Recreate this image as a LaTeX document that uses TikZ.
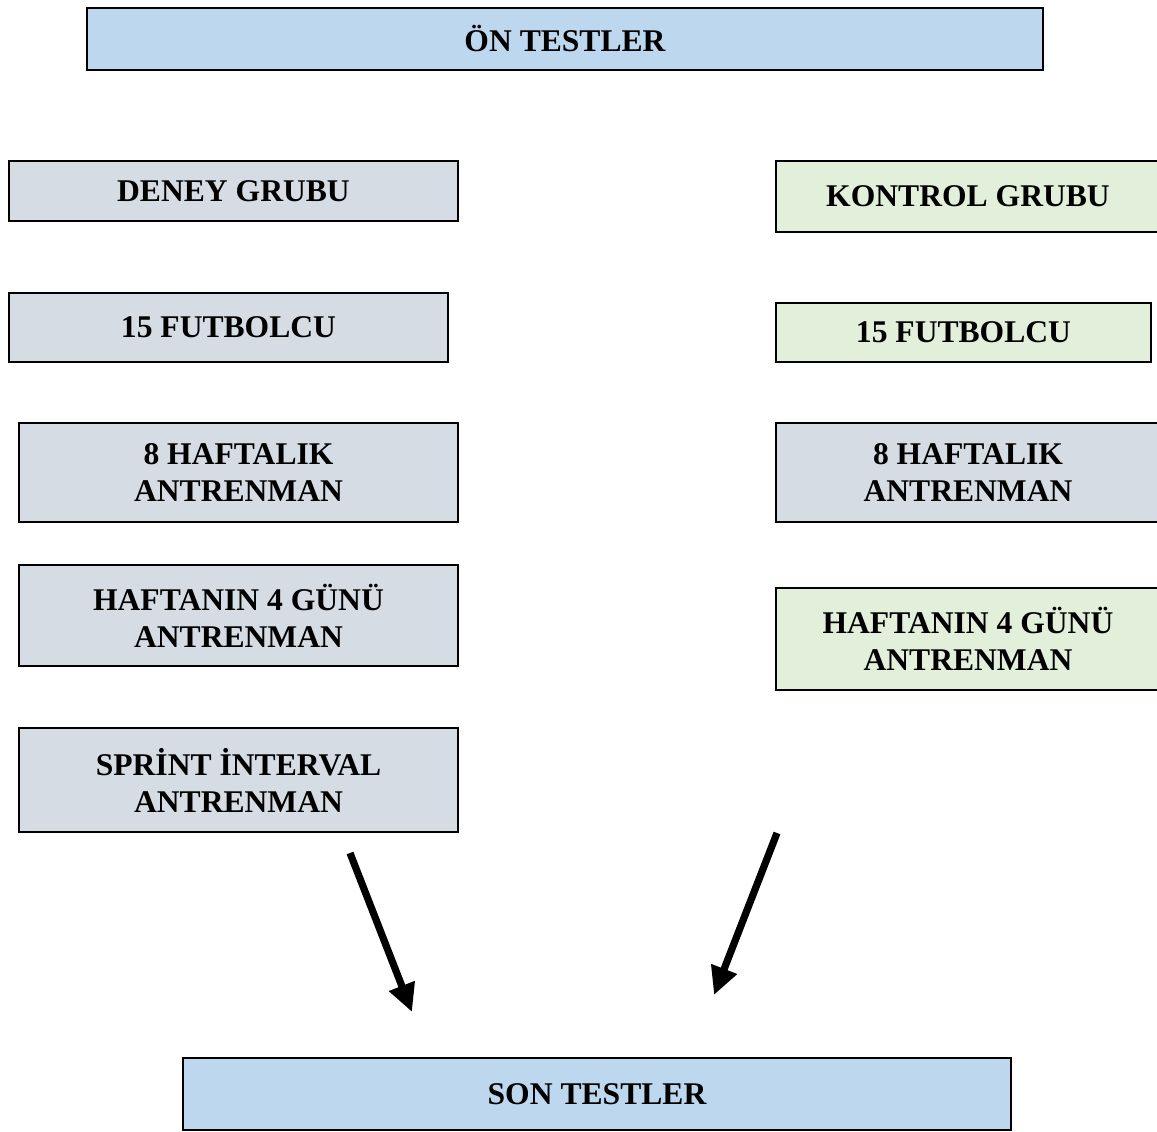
\documentclass[tikz,border=0pt]{standalone}
\usepackage{fontspec}
\setmainfont{Liberation Serif}
\usetikzlibrary{arrows.meta}
\definecolor{testblue}{HTML}{BDD7EE}
\definecolor{grupgray}{HTML}{D6DCE4}
\definecolor{grupgreen}{HTML}{E2EFDA}
\tikzset{
	kutu/.style={draw=black,line width=1pt,inner sep=0pt,align=center,font=\fontsize{15.8}{18.5}\selectfont\bfseries},
	ok/.style={line width=3.6pt,-{Triangle[length=14pt,width=13pt]}}
}
\begin{document}
\begin{tikzpicture}[x=0.5pt,y=-0.5pt]
	\useasboundingbox (0,0) rectangle (1157,1131);
	\node[kutu,fill=testblue,minimum width=478pt,minimum height=31pt] (on) at (565,39) {ÖN TESTLER};
	\node[kutu,fill=grupgray,minimum width=224.5pt,minimum height=30pt] (deney) at (233.5,191) {DENEY GRUBU};
	\node[kutu,fill=grupgray,minimum width=219.5pt,minimum height=34.5pt] (dfut) at (228.5,327.5) {15 FUTBOLCU};
	\node[kutu,fill=grupgray,minimum width=219.5pt,minimum height=49.5pt] (dhaf) at (238.5,472.5) {8 HAFTALIK\\ANTRENMAN};
	\node[kutu,fill=grupgray,minimum width=219.5pt,minimum height=50.5pt] (dgun) at (238.5,615.5) {HAFTANIN 4 GÜNÜ\\ANTRENMAN};
	\node[kutu,fill=grupgray,minimum width=219.5pt,minimum height=52pt] (dspr) at (238.5,780) {SPRİNT İNTERVAL\\ANTRENMAN};
	\node[kutu,fill=grupgreen,minimum width=192pt,minimum height=35.5pt] (kontrol) at (968,196.5) {KONTROL GRUBU};
	\node[kutu,fill=grupgreen,minimum width=187.5pt,minimum height=29.5pt] (kfut) at (963.5,332.5) {15 FUTBOLCU};
	\node[kutu,fill=grupgray,minimum width=192pt,minimum height=49.5pt] (khaf) at (968,472.5) {8 HAFTALIK\\ANTRENMAN};
	\node[kutu,fill=grupgreen,minimum width=192pt,minimum height=51pt] (kgun) at (968,639) {HAFTANIN 4 GÜNÜ\\ANTRENMAN};
	\node[kutu,fill=testblue,minimum width=414pt,minimum height=36pt] (son) at (597,1094) {SON TESTLER};
	\coordinate (sol1) at (350,853);
	\coordinate (sol2) at (412,1012);
	\coordinate (sag1) at (777,833);
	\coordinate (sag2) at (714,995);
	\draw[ok] (sol1) -- (sol2);
	\draw[ok] (sag1) -- (sag2);
\end{tikzpicture}
\end{document}
